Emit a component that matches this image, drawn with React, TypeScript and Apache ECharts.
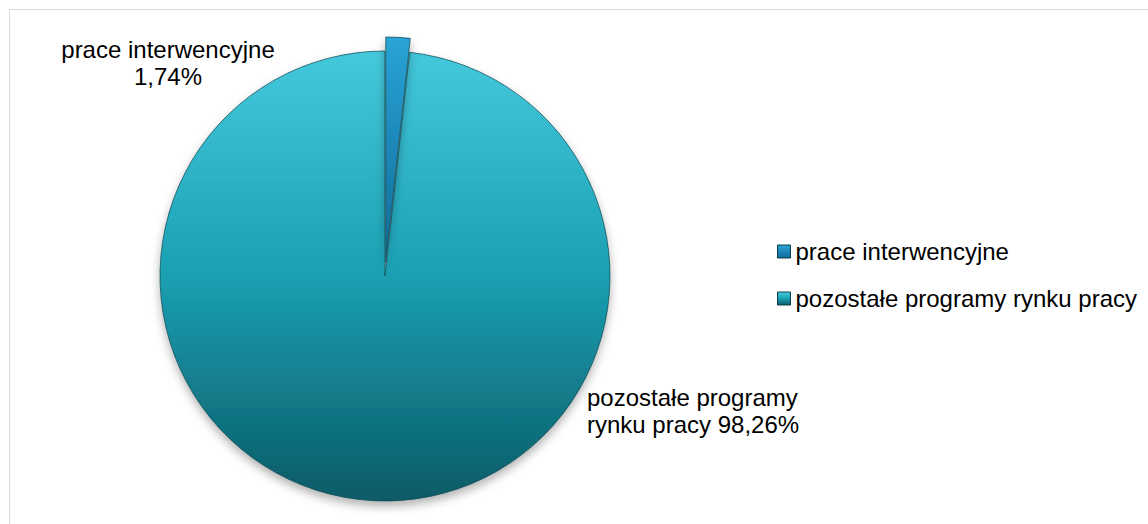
import React, { useEffect, useRef } from "react";
import * as echarts from "echarts";

const categories = ["prace interwencyjne", "pozostałe programy rynku pracy"];
const values = [1.74, 98.26];
const labelTexts = ["prace interwencyjne\n1,74%", "pozostałe programy\nrynku pracy 98,26%"];

const FONT = "'Liberation Sans', Arial, sans-serif";

export default function App() {
  const ref = useRef<HTMLDivElement>(null);
  useEffect(() => {
    if (!ref.current) return;
    const chart = echarts.init(ref.current, null, { renderer: "svg" });
    const smallGrad = new echarts.graphic.LinearGradient(0, 0, 0, 1, [
      { offset: 0, color: "#2aa4d6" },
      { offset: 1, color: "#0f6a98" },
    ]);
    const bigGrad = new echarts.graphic.LinearGradient(0, 0, 0, 1, [
      { offset: 0, color: "#44c8dc" },
      { offset: 0.5, color: "#1b9fb2" },
      { offset: 1, color: "#0b5a66" },
    ]);
    const colors = [smallGrad, bigGrad];
    const labelPos = [
      { x: 168, y: 63, align: "center" },
      { x: 587, y: 411, align: "left" },
    ];
    // index of the slice drawn pulled out of the pie
    const explodedIndex = 0;
    const baseCenter = [385, 276];
    const explodeOffset = 14;
    const total = values.reduce((a, b) => a + b, 0);
    const midAngle =
      (90 - ((values.slice(0, explodedIndex).reduce((a, b) => a + b, 0) + values[explodedIndex] / 2) / total) * 360) *
      (Math.PI / 180);
    const explodedCenter = [
      baseCenter[0] + explodeOffset * Math.cos(midAngle),
      baseCenter[1] - explodeOffset * Math.sin(midAngle),
    ];

    const commonItem = {
      borderColor: "rgba(10,70,80,0.7)",
      borderWidth: 1,
      shadowBlur: 10,
      shadowColor: "rgba(0,0,0,0.3)",
      shadowOffsetY: 5,
    };
    const hiddenItem = {
      color: "rgba(0,0,0,0)",
      borderWidth: 0,
      shadowBlur: 0,
      shadowColor: "rgba(0,0,0,0)",
    };

    const makeSeries = (center: number[], showIdx: (i: number) => boolean) => ({
      type: "pie",
      center,
      radius: 225,
      startAngle: 90,
      clockwise: true,
      silent: true,
      avoidLabelOverlap: false,
      labelLine: { show: false },
      itemStyle: commonItem,
      emphasis: { disabled: true },
      label: {
        show: true,
        position: "outside",
        fontFamily: FONT,
        fontSize: 24,
        lineHeight: 27,
        color: "#000",
        formatter: (p: any) => labelTexts[p.dataIndex],
      },
      labelLayout: (p: any) => ({
        x: labelPos[p.dataIndex].x,
        y: labelPos[p.dataIndex].y,
        align: labelPos[p.dataIndex].align,
        verticalAlign: "middle",
      }),
      data: categories.map((c, i) => ({
        name: c,
        value: values[i],
        itemStyle: showIdx(i) ? { color: colors[i] } : hiddenItem,
        label: showIdx(i) ? { align: labelPos[i].align } : { show: false },
      })),
    });

    chart.setOption({
      animation: false,
      graphic: [
        {
          type: "rect",
          shape: { x: 9.5, y: 9.5, width: 1150, height: 530 },
          style: { fill: "none", stroke: "#d9d9d9", lineWidth: 1 },
          silent: true,
        },
      ],
      legend: {
        orient: "vertical",
        left: 777,
        top: 238,
        padding: 0,
        icon: "rect",
        itemWidth: 13,
        itemHeight: 13,
        itemGap: 20,
        selectedMode: false,
        textStyle: { fontFamily: FONT, fontSize: 24, color: "#000", lineHeight: 27 },
        data: categories.map((c, i) => ({
          name: c,
          itemStyle: { color: colors[i], borderColor: "#0a3f4a", borderWidth: 1 },
        })),
      },
      series: [
        makeSeries(baseCenter, (i) => i !== explodedIndex),
        makeSeries(explodedCenter, (i) => i === explodedIndex),
      ],
    });
    return () => chart.dispose();
  }, []);
  return (
    <div
      ref={ref}
      style={{ position: "absolute", left: 0, top: 0, width: 1148, height: 524, background: "#fff" }}
    />
  );
}
